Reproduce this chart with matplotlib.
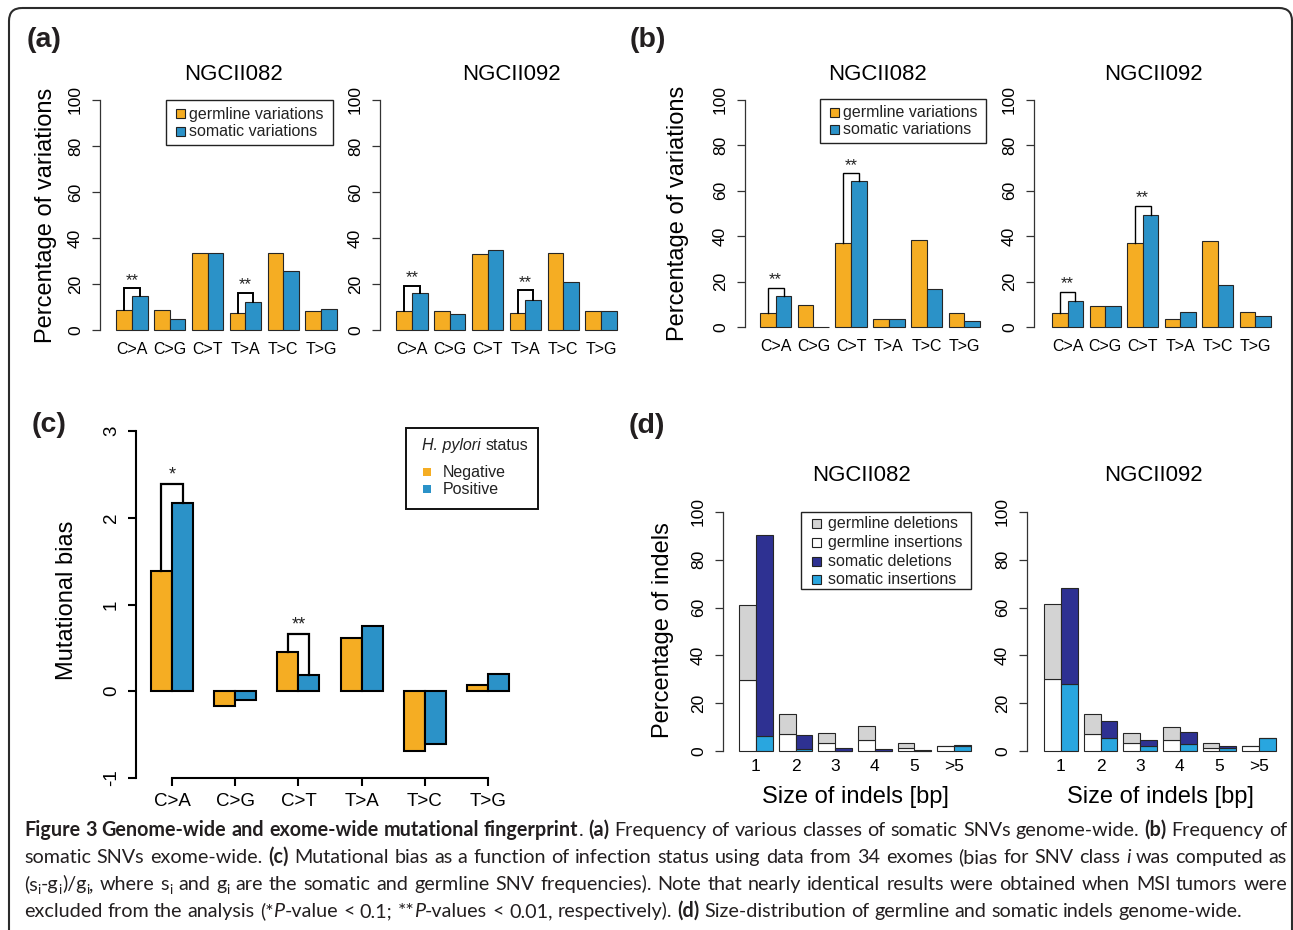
import numpy as np
import matplotlib
matplotlib.use("Agg")
import matplotlib.pyplot as plt
from matplotlib.patches import Rectangle, FancyBboxPatch
from matplotlib.font_manager import FontProperties

W, H = 1293, 930

snv_classes = ["C>A", "C>G", "C>T", "T>A", "T>C", "T>G"]

# (a) genome-wide SNV frequencies (%)
gw082_germ = [8.7, 8.7, 33.3, 7.2, 33.3, 8.4]
gw082_som = [14.9, 4.6, 33.3, 12.0, 25.8, 9.0]
gw092_germ = [8.4, 8.4, 33.0, 7.2, 33.3, 8.3]
gw092_som = [15.9, 6.8, 34.6, 13.0, 20.9, 8.3]
gw082_sig = [(0, 18.1, "**"), (3, 16.1, "**")]
gw092_sig = [(0, 19.3, "**"), (3, 17.2, "**")]

# (b) exome-wide SNV frequencies (%)
ex082_germ = [6.2, 9.5, 36.9, 3.5, 38.4, 6.2]
ex082_som = [13.5, 0.0, 64.1, 3.5, 16.7, 2.5]
ex092_germ = [6.0, 9.4, 37.2, 3.4, 38.1, 6.5]
ex092_som = [11.6, 9.2, 49.4, 6.6, 18.3, 5.0]
ex082_sig = [(0, 17.3, "**"), (2, 67.7, "**")]
ex092_sig = [(0, 15.5, "**"), (2, 53.5, "**")]

# (c) mutational bias by H. pylori status
bias_neg = [1.39, -0.17, 0.45, 0.61, -0.69, 0.07]
bias_pos = [2.17, -0.10, 0.19, 0.75, -0.61, 0.20]
bias_sig = [(0, 2.39, "*"), (2, 0.66, "**")]

# (d) indel size distribution (%)
indel_sizes = ["1", "2", "3", "4", "5", ">5"]
id082_germ_ins = [29.9, 7.3, 3.5, 4.5, 1.4, 2.1]
id082_germ_del = [31.0, 8.2, 4.0, 6.0, 2.0, 0.0]
id082_som_ins = [6.4, 0.8, 0.2, 0.1, 0.0, 2.3]
id082_som_del = [84.1, 5.9, 1.2, 0.7, 0.4, 0.1]
id092_germ_ins = [30.2, 7.1, 3.4, 4.5, 1.4, 2.0]
id092_germ_del = [31.3, 8.5, 4.1, 5.4, 2.0, 0.0]
id092_som_ins = [27.9, 5.6, 2.0, 2.9, 1.1, 5.3]
id092_som_del = [40.5, 7.1, 2.6, 4.9, 1.0, 0.0]

caption = [
    [("Figure 3 Genome-wide and exome-wide mutational fingerprint", "b"), (". ", "n"), ("(a)", "b"),
     (" Frequency of various classes of somatic SNVs genome-wide. ", "n"), ("(b)", "b"), (" Frequency of", "n")],
    [("somatic SNVs exome-wide. ", "n"), ("(c)", "b"),
     (" Mutational bias as a function of infection status using data from 34 exomes (bias for SNV class ", "n"),
     ("i", "i"), (" was computed as", "n")],
    [("(s", "n"), ("i", "s"), ("-g", "n"), ("i", "s"), (")/g", "n"), ("i", "s"), (", where s", "n"), ("i", "s"),
     (" and g", "n"), ("i", "s"),
     (" are the somatic and germline SNV frequencies). Note that nearly identical results were obtained when MSI tumors were", "n")],
    [("excluded from the analysis (*", "n"), ("P", "i"), ("-value < 0.1; **", "n"), ("P", "i"),
     ("-values < 0.01, respectively). ", "n"), ("(d)", "b"),
     (" Size-distribution of germline and somatic indels genome-wide.", "n")],
]

orange = "#F5AD23"
blue = "#2B92C8"
navy = "#2E3192"
lblue = "#29A6DF"
grey = "#D3D3D3"
edge = "#262626"

plt.rcParams["font.family"] = ["Liberation Sans", "DejaVu Sans"]

fig = plt.figure(figsize=(W / 100, H / 100), dpi=100)
renderer = fig.canvas.get_renderer()


def px_axes(x0, x1, ytop, ybot):
    return fig.add_axes([x0 / W, 1 - ybot / H, (x1 - x0) / W, (ybot - ytop) / H])


ov = fig.add_axes([0, 0, 1, 1], zorder=10)
ov.set_xlim(0, W)
ov.set_ylim(H, 0)
ov.axis("off")


def text_w(s, prop):
    w, h, d = renderer.get_text_width_height_descent(s, prop, ismath=False)
    return w


def style_y(ax, ticks, size):
    ax.set_yticks(ticks)
    ax.set_yticklabels([str(t) for t in ticks], rotation=90, va="center", fontsize=size)
    for s in ["top", "right", "bottom"]:
        ax.spines[s].set_visible(False)
    ax.spines["left"].set_color("#333333")
    ax.spines["left"].set_linewidth(0.9)
    ax.tick_params(axis="y", length=5.8, width=0.9, color="#333333", pad=6.5)
    ax.patch.set_alpha(0)


def snv_panel(x_axis, x_left, x_right, y0, y100, germ, som, sig, br_lw):
    stride = 2.4
    c = np.arange(len(snv_classes)) * stride
    span = (len(snv_classes) - 1) * stride + 2
    ppu = (x_right - x_left) / span
    ax = px_axes(x_axis, x_right + 10, y100, y0)
    ax.set_xlim(-1 - (x_left - x_axis) / ppu, c[-1] + 1 + 10 / ppu)
    ax.set_ylim(0, 100)
    ax.bar(c - 0.5, germ, 1, color=orange, edgecolor=edge, linewidth=0.8, clip_on=False)
    ax.bar(c + 0.5, som, 1, color=blue, edgecolor=edge, linewidth=0.8, clip_on=False)
    for i, h, star in sig:
        ax.plot([c[i] - 0.5, c[i] - 0.5, c[i] + 0.5, c[i] + 0.5], [germ[i], h, h, som[i]],
                color="black", lw=br_lw, clip_on=False, solid_joinstyle="miter")
        ax.annotate(star, (c[i], h), xytext=(0, 0.5), textcoords="offset points",
                    ha="center", va="bottom", fontsize=12, color="#222222")
    style_y(ax, [0, 20, 40, 60, 80, 100], 12.5)
    ax.set_xticks(c)
    ax.set_xticklabels(snv_classes, fontsize=11.5)
    ax.tick_params(axis="x", length=0, pad=8.5)
    return ax


def indel_panel(x_axis, x_left, x_right, y0, y100, g_ins, g_del, s_ins, s_del):
    stride = 2.35
    c = np.arange(len(indel_sizes)) * stride
    span = (len(indel_sizes) - 1) * stride + 2
    ppu = (x_right - x_left) / span
    ax = px_axes(x_axis, x_right + 10, y100, y0)
    ax.set_xlim(-1 - (x_left - x_axis) / ppu, c[-1] + 1 + 10 / ppu)
    ax.set_ylim(0, 100)
    kw = dict(edgecolor=edge, linewidth=0.8, clip_on=False)
    ax.bar(c - 0.5, g_ins, 1, color="white", **kw)
    ax.bar(c - 0.5, g_del, 1, bottom=g_ins, color=grey, **kw)
    ax.bar(c + 0.5, s_ins, 1, color=lblue, **kw)
    ax.bar(c + 0.5, s_del, 1, bottom=s_ins, color=navy, **kw)
    style_y(ax, [0, 20, 40, 60, 80, 100], 12.5)
    ax.set_xticks(c)
    ax.set_xticklabels(indel_sizes, fontsize=12.5)
    ax.tick_params(axis="x", length=0, pad=5.5)
    return ax


def legend_box(x0, y0, x1, y1, entries, sq_x, txt_x, rows, sq=9, size=11.5):
    ov.add_patch(Rectangle((x0, y0), x1 - x0, y1 - y0, fill=False, ec="#222222", lw=1.0))
    for (label, col), ry in zip(entries, rows):
        ov.add_patch(Rectangle((sq_x, ry - sq / 2), sq, sq, fc=col, ec="#222222", lw=0.8))
        ov.text(txt_x, ry, label, va="center", ha="left", fontsize=size, color="#222222")


# ---- (a) ----
snv_panel(100, 116, 337, 330, 100, gw082_germ, gw082_som, gw082_sig, 1.4)
snv_panel(380, 396, 617, 330, 100, gw092_germ, gw092_som, gw092_sig, 1.4)
ov.text(233, 75, "NGCII082", ha="center", va="center", fontsize=16)
ov.text(511, 75, "NGCII092", ha="center", va="center", fontsize=16)
ov.text(46, 215, "Percentage of variations", rotation=90, ha="center", va="center", fontsize=17)
legend_box(166, 100, 333, 145, [("germline variations", orange), ("somatic variations", blue)],
           176, 189, [114, 132])

# ---- (b) ----
snv_panel(745, 760, 980, 327, 100, ex082_germ, ex082_som, ex082_sig, 1.0)
snv_panel(1034, 1052, 1271, 327, 100, ex092_germ, ex092_som, ex092_sig, 1.0)
ov.text(877, 75, "NGCII082", ha="center", va="center", fontsize=16)
ov.text(1153, 75, "NGCII092", ha="center", va="center", fontsize=16)
ov.text(678, 213, "Percentage of variations", rotation=90, ha="center", va="center", fontsize=17)
legend_box(820, 99, 986, 143, [("germline variations", orange), ("somatic variations", blue)],
           830, 843, [113, 130])

# ---- (c) ----
cc = np.arange(len(snv_classes)) * 3.0
ppu_c = (488 - 172) / cc[-1]
axc = px_axes(136, 530, 431, 778)
axc.set_xlim((136 - 172) / ppu_c, (530 - 172) / ppu_c)
axc.set_ylim(-1, 3)
axc.bar(cc - 0.5, bias_neg, 1, color=orange, edgecolor="black", linewidth=1.5)
axc.bar(cc + 0.5, bias_pos, 1, color=blue, edgecolor="black", linewidth=1.5)
for i, h, star in bias_sig:
    axc.plot([cc[i] - 0.5, cc[i] - 0.5, cc[i] + 0.5, cc[i] + 0.5], [bias_neg[i], h, h, bias_pos[i]],
             color="black", lw=1.6, solid_joinstyle="miter")
    axc.annotate(star, (cc[i], h), xytext=(0, 0.5), textcoords="offset points",
                 ha="center", va="bottom", fontsize=13, color="#222222")
style_y(axc, [-1, 0, 1, 2, 3], 13.5)
axc.spines["left"].set_bounds(-1, 3)
axc.spines["left"].set_linewidth(1.5)
axc.spines["left"].set_color("black")
axc.spines["bottom"].set_visible(True)
axc.spines["bottom"].set_bounds(cc[0], cc[-1])
axc.spines["bottom"].set_linewidth(1.5)
axc.spines["bottom"].set_color("black")
axc.tick_params(axis="y", length=6, width=1.5, color="black", pad=5.5)
axc.set_xticks(cc)
axc.set_xticklabels(snv_classes, fontsize=13.5)
axc.tick_params(axis="x", length=6, width=1.5, color="black", pad=4.5)
ov.text(67, 600, "Mutational bias", rotation=90, ha="center", va="center", fontsize=17)

ov.add_patch(Rectangle((406, 428), 132, 81, fill=False, ec="#111111", lw=1.4))
p_it = FontProperties(family="Liberation Sans", style="italic", size=11.5)
ov.text(422, 445, "H. pylori", fontproperties=p_it, va="center", ha="left", color="#222222")
ov.text(422 + text_w("H. pylori ", p_it), 445, "status", va="center", ha="left", fontsize=11.5,
        color="#222222")
for (label, col), ry in zip([("Negative", orange), ("Positive", blue)], [472, 489]):
    ov.add_patch(Rectangle((423, ry - 4), 8, 8, fc=col, ec="none"))
    ov.text(443, ry, label, va="center", ha="left", fontsize=11.5, color="#222222")

# ---- (d) ----
indel_panel(723, 739, 971, 751, 512, id082_germ_ins, id082_germ_del, id082_som_ins, id082_som_del)
indel_panel(1027, 1044, 1276, 751, 512, id092_germ_ins, id092_germ_del, id092_som_ins, id092_som_del)
ov.text(861, 475, "NGCII082", ha="center", va="center", fontsize=16)
ov.text(1153, 475, "NGCII092", ha="center", va="center", fontsize=16)
ov.text(855, 797, "Size of indels [bp]", ha="center", va="center", fontsize=17)
ov.text(1160, 797, "Size of indels [bp]", ha="center", va="center", fontsize=17)
ov.text(663, 630, "Percentage of indels", rotation=90, ha="center", va="center", fontsize=17)
legend_box(801, 512, 971, 589, [("germline deletions", grey), ("germline insertions", "white"),
                                ("somatic deletions", navy), ("somatic insertions", lblue)],
           812, 828, [523, 542, 561, 579])

# panel letters
for lab, x, y in [("(a)", 44, 40), ("(b)", 648, 40), ("(c)", 49, 425), ("(d)", 647, 426)]:
    ov.text(x, y, lab, ha="center", va="center", fontsize=20.5, fontweight="bold", color="#231f20")

# frame
ov.add_patch(FancyBboxPatch((9, 8), 1292 - 9, 1000, boxstyle="round,pad=0,rounding_size=13",
                            fill=False, ec="#2b2b2b", lw=1.5))


# caption
cap_font = "Lato"


def cap_props(size):
    return {
        "n": FontProperties(family=cap_font, size=size),
        "b": FontProperties(family=cap_font, weight="bold", size=size),
        "i": FontProperties(family=cap_font, style="italic", size=size),
        "s": FontProperties(family=cap_font, size=size * 0.68),
    }


def split_words(runs):
    words = [[]]
    for txt, st in runs:
        parts = txt.split(" ")
        for k, p in enumerate(parts):
            if k > 0:
                words.append([])
            if p:
                words[-1].append((p, st))
    return [w for w in words if w]


def word_w(word, props):
    return sum(text_w(p, props[st]) for p, st in word)


def natural(line, props):
    ws = split_words(line)
    return sum(word_w(w, props) for w in ws) + text_w(" ", props["n"]) * (len(ws) - 1)


cap_x0, cap_x1 = 24, 1287
size0 = 12.0
props = cap_props(size0)
nat = [natural(line, props) for line in caption]
size = size0 * (1238 - cap_x0) / nat[-1]
size = min(size, size0 * (cap_x1 - cap_x0 - 2) / max(nat[:-1]))
props = cap_props(size)
space = text_w(" ", props["n"])
for k, (line, base) in enumerate(zip(caption, [836, 863, 890, 917])):
    ws = split_words(line)
    widths = [word_w(w, props) for w in ws]
    if k < len(caption) - 1:
        gap = (cap_x1 - cap_x0 - sum(widths)) / (len(ws) - 1)
    else:
        gap = space
    x = cap_x0
    for w, ww in zip(ws, widths):
        xx = x
        for p, st in w:
            yy = base + 3.5 if st == "s" else base
            ov.text(xx, yy, p, fontproperties=props[st], va="baseline", ha="left", color="#231f20")
            xx += text_w(p, props[st])
        x += ww + gap

fig.savefig("out.png", dpi=100)
